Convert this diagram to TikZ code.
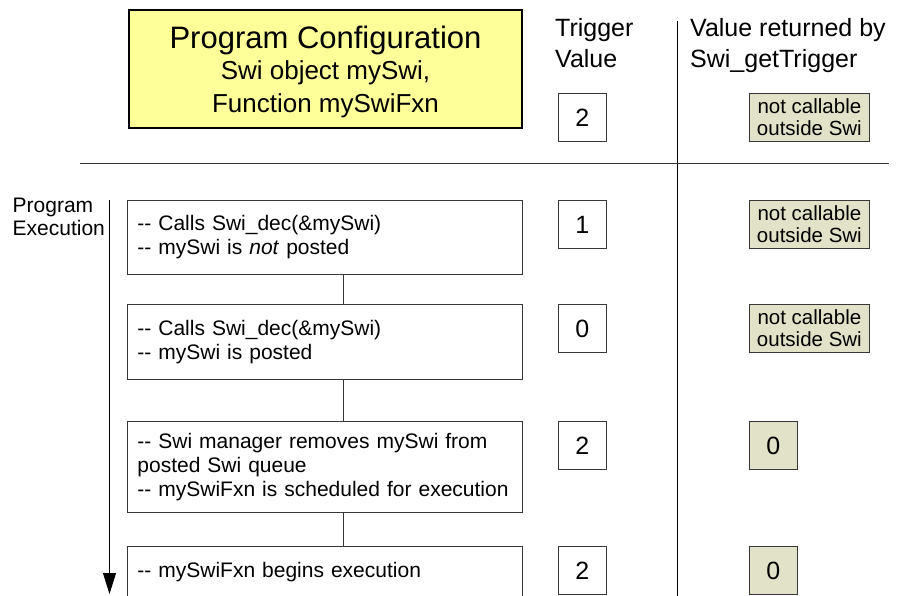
\documentclass[tikz,border=0pt]{standalone}
\usepackage{fontspec}
\setmainfont{Liberation Sans}
\usetikzlibrary{arrows.meta}
\definecolor{cfgyellow}{RGB}{255,255,153}
\definecolor{khaki}{RGB}{226,226,201}
\definecolor{edge}{RGB}{55,55,55}
\newcommand\dashdash{-\kern0pt-}
\begin{document}
\begin{tikzpicture}[x=1pt,y=-1pt,
  rowbox/.style={draw=edge, line width=0.8pt, anchor=north west, minimum width=395pt,
    text width=375pt, inner xsep=10pt, inner ysep=0pt, align=left,
    font=\fontsize{21}{24}\selectfont},
  trig/.style={draw=edge, line width=0.8pt, anchor=north west, minimum width=48pt,
    minimum height=48pt, inner sep=0pt, font=\fontsize{25}{28}\selectfont},
  retbox/.style={trig, fill=khaki},
  widebox/.style={retbox, minimum width=120pt, align=center,
    font=\fontsize{20.5}{22}\selectfont},
  hdr/.style={anchor=north west, inner sep=0pt, align=left,
    font=\fontsize{25}{31}\selectfont},
  link/.style={draw=edge, line width=0.8pt},
]
\useasboundingbox (0,0) rectangle (902,595);
\clip (0,0) rectangle (902,595);

% configuration box
\node[draw=black, line width=2.7pt, fill=cfgyellow, minimum width=393pt,
  minimum height=118pt, align=center, inner sep=0pt,
  font=\fontsize{26}{31}\selectfont] (cfg) at (325.5,69)
  {{\fontsize{31}{35}\selectfont\rule{0pt}{28pt}Program Configuration}\\
   Swi object mySwi,\\[1.5pt]Function mySwiFxn};

% headers
\node[hdr] (htrig) at (555,18) {Trigger\\Value};
\node[hdr] (hret) at (690,18) {Value returned by\\Swi\_getTrigger};
\node[anchor=north west, inner sep=0pt, align=left,
  font=\fontsize{21}{23}\selectfont] (hexec) at (12.5,197.5) {Program\\Execution};

% separators
\coordinate (dtop) at (677,21);
\coordinate (dbot) at (677,596);
\draw[line width=0.9pt, black] (dtop) -- (dbot);
\coordinate (hl) at (80,163);
\coordinate (hr) at (889,163);
\draw[line width=0.9pt, edge] (hl) -- (hr);

% timeline
\coordinate (tl0) at (109.5,200);
\coordinate (tl1) at (109.5,594);
\draw[line width=0.8pt, -{Triangle[length=21pt,width=13pt]}] (tl0) -- (tl1);

% row boxes
\node[rowbox, minimum height=74pt] (r1) at (127,200)
  {\dashdash{} Calls Swi\_dec(\&mySwi)\\\dashdash{} mySwi is \textit{not} posted};
\node[rowbox, minimum height=75pt] (r2) at (127,304.3)
  {\dashdash{} Calls Swi\_dec(\&mySwi)\\\dashdash{} mySwi is posted};
\node[rowbox, minimum height=90.5pt] (r3) at (127,421)
  {\dashdash{} Swi manager removes mySwi from\\posted Swi queue\\\dashdash{} mySwiFxn is scheduled for execution};
\node[rowbox, minimum height=52pt] (r4) at (127,545.5)
  {\dashdash{} mySwiFxn begins execution};

\coordinate (cx) at (343,0);
\draw[link] (r1.south -| cx) -- (r2.north -| cx);
\draw[link] (r2.south -| cx) -- (r3.north -| cx);
\draw[link] (r3.south -| cx) -- (r4.north -| cx);

% trigger values
\node[trig] (t0) at (558,93) {2};
\node[trig] (t1) at (558,200) {1};
\node[trig] (t2) at (558,304) {0};
\node[trig] (t3) at (558,421) {2};
\node[trig] (t4) at (558,546) {2};

% returned values
\node[widebox] (v0) at (749,93) {not callable\\outside Swi};
\node[widebox] (v1) at (749,200) {not callable\\outside Swi};
\node[widebox] (v2) at (749,304) {not callable\\outside Swi};
\node[retbox] (v3) at (749,421) {0};
\node[retbox] (v4) at (749,546) {0};
\end{tikzpicture}
\end{document}
